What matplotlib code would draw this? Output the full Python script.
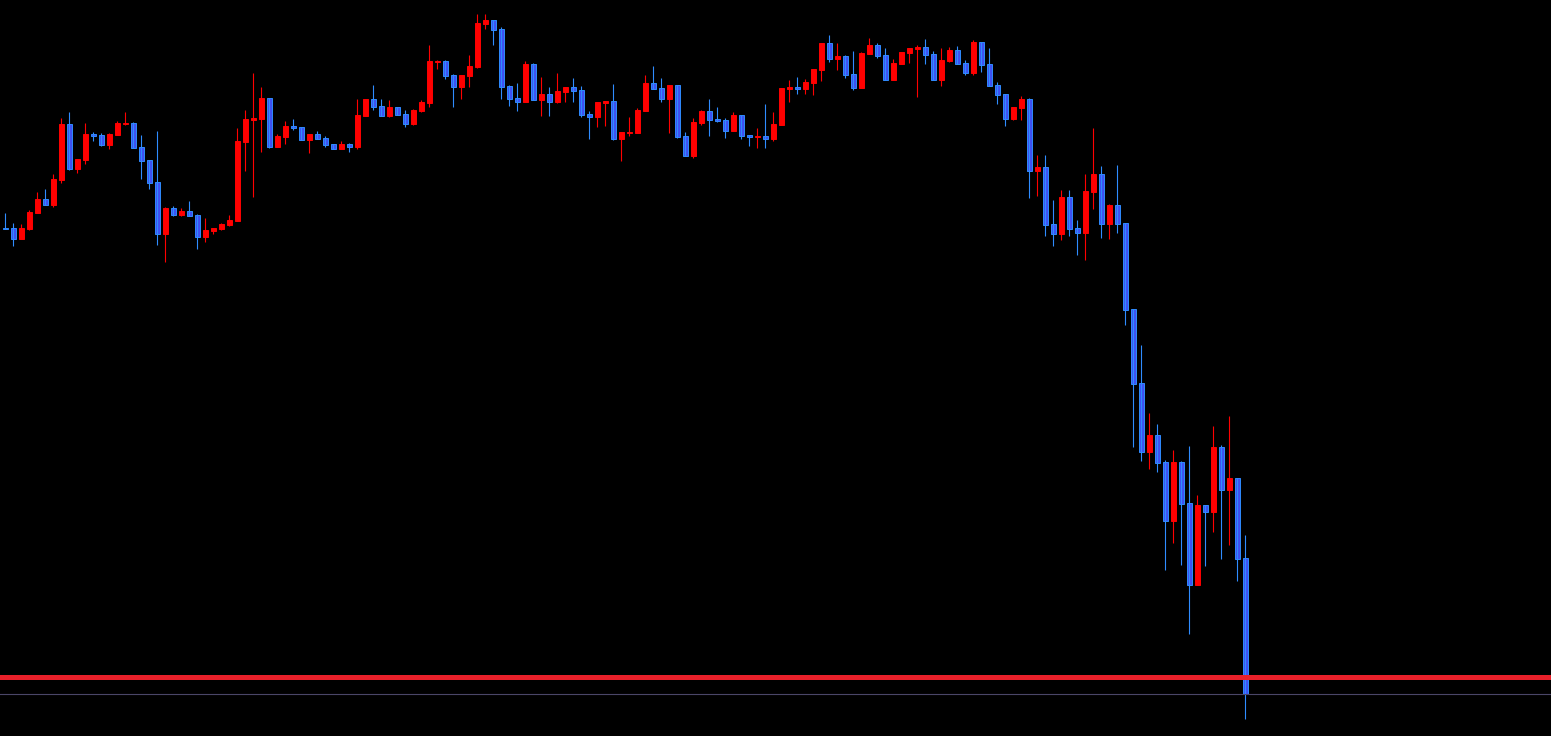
import matplotlib
matplotlib.use("Agg")
import matplotlib.pyplot as plt
import numpy as np

# candle data (price units, one entry per bar)
opens = [508.5, 507.7, 497.3, 507, 523.3, 537, 531, 556, 612, 567,
         576, 602, 601, 591, 601, 612, 613, 589, 576, 554,
         502.3, 528, 521, 525, 521, 499.3, 505, 507, 511, 515,
         594, 616, 617.3, 638, 589.3, 599.3, 610, 609, 596.3, 602,
         598, 592, 587.3, 592, 589.3, 620.3, 637, 630, 620.3, 629,
         622, 612.3, 625, 633, 674, 675, 661, 649, 660, 669,
         712, 716, 707, 650, 638, 634.3, 672, 636.3, 642, 634.3,
         644.3, 649, 646, 622.3, 619.3, 633.3, 635, 597.3, 603.3, 603.3,
         625.3, 653, 648, 637.3, 651, 600, 580.3, 613.3, 625, 617,
         616, 605.3, 621, 601, 599.3, 600, 597.3, 611.3, 647.3, 649,
         647.3, 653.3, 666.3, 693, 677.3, 680, 662, 648.3, 682.3, 691,
         681, 656.3, 672.3, 683, 687.3, 689, 682, 656.3, 675.3, 686,
         673, 663.3, 694, 672, 651, 642, 617.3, 628.3, 637, 565.3,
         569, 512, 502.3, 539, 508, 503.3, 544.3, 562, 512.3, 531,
         513, 426.7, 353, 284.3, 301, 274, 215.3, 274, 233, 151.3,
         231, 224.3, 289, 246.3, 258, 177.7]
highs = [523, 513, 512, 526, 544, 547, 562, 618, 624, 577,
         613, 604, 603, 603, 615, 624, 614, 601, 576, 605,
         529, 530, 528, 535, 522, 518, 508, 513, 521, 608,
         626, 663, 649, 638, 602, 615, 617, 609, 602, 605,
         600, 592, 595, 593, 637, 637, 651, 637, 636, 629,
         626, 627, 636, 691, 676, 676, 662, 661, 681, 722,
         722, 716, 709, 651, 653, 675, 673, 659, 649, 663,
         649, 658, 650, 625, 634, 635, 652, 604, 619, 628,
         661, 670, 658, 651, 651, 604, 618, 626, 637, 629,
         618, 624, 621, 601, 608, 632, 624, 648, 656, 659,
         657, 667, 693, 701, 693, 681, 685, 684, 698, 693,
         688, 677, 684, 688, 691, 697, 685, 688, 689, 690,
         676, 696, 694, 688, 654, 642, 629, 640, 638, 581,
         581, 536, 546, 546, 516, 562, 608, 570, 532, 571,
         513, 427, 391, 323, 312, 276, 286, 275, 290, 241,
         231, 310, 291, 320, 258, 201]
lows = [507.5, 490.3, 497.3, 506, 523.3, 531.3, 529.3, 553.3, 566, 563.3,
        572, 595, 590, 587.3, 601, 611, 588.3, 557, 547, 491,
        474.3, 520, 520, 520, 487, 494.3, 502.3, 506, 510, 515,
        565, 539, 584.3, 588.3, 589.3, 592.3, 606, 596.3, 583.3, 597.3,
        589.3, 587.3, 587.3, 584.3, 587.3, 620.3, 626.3, 620.3, 619.3, 621.3,
        609.3, 611.3, 624, 629, 667, 657, 629, 637, 649, 668,
        707, 691, 637, 630.3, 625.3, 634.3, 636.3, 620.3, 620.3, 633.3,
        634.3, 634.3, 619.3, 597.3, 609.3, 610.3, 596.3, 575.3, 600.3, 603.3,
        625.3, 647.3, 634.3, 603.3, 598.3, 580.3, 578.3, 611.3, 600.3, 614.3,
        598.3, 605.3, 597.3, 590.3, 588.3, 588.3, 595.3, 611.3, 634.3, 642.3,
        642.3, 641.3, 655.3, 674.3, 666.3, 658.3, 646.3, 648.3, 682.3, 678.3,
        656.3, 656.3, 672.3, 673.3, 639.3, 672.3, 656.3, 650.3, 674.3, 672.3,
        661.3, 661.3, 664.3, 650.3, 632.3, 610.3, 616.3, 616.3, 538.3, 540.3,
        500.3, 490.3, 496.3, 500.3, 481.3, 476.3, 527.3, 498.3, 497.3, 503.3,
        411.3, 289.3, 275.3, 267.3, 264.3, 166.3, 193.3, 171.3, 102.3, 151.3,
        170.3, 204.3, 177.3, 191.3, 155.3, 17.3]
closes = [507.5, 497.3, 508, 524, 537, 531.3, 557, 612, 567, 577,
          602, 600, 591, 602, 613, 613, 588.3, 575.3, 553, 502.3,
          528, 521, 525, 520, 499.3, 506, 508, 512, 516, 595,
          617, 618, 638, 589.3, 600, 610, 608, 596.3, 602, 597.3,
          591.3, 587.3, 592, 589.3, 621, 637, 629.3, 620.3, 629, 621.3,
          612.3, 626, 634, 675, 675, 660, 649, 661, 670, 713,
          716, 706, 649, 637.3, 634.3, 672, 636.3, 642, 634.3, 645,
          649, 645.3, 621.3, 619.3, 634, 635, 597.3, 604, 604.3, 626,
          653, 647.3, 637.3, 651, 599.3, 580.3, 614, 625, 616.3, 615,
          605.3, 621, 600.3, 599.3, 600, 597.3, 612, 648, 649, 647.3,
          654, 667, 693, 677.3, 680, 661.3, 648.3, 683, 691, 680.3,
          656.3, 673, 684, 688, 689, 681.3, 656.3, 676, 686, 672.3,
          663.3, 694, 671.3, 650.3, 641.3, 617.3, 629, 637, 565.3, 569,
          511.3, 502.3, 539, 507.3, 503.3, 545, 562, 512.3, 531, 512.3,
          426.3, 352.3, 284.3, 301, 273.3, 215.3, 274, 232.3, 151.3, 231,
          224.3, 289, 246.3, 258, 177.3, 42.5]

level_price = 58.7   # red horizontal level
bid_price = 42.5     # last price line

bull_color = "#ff0000"
bear_fill = "#3f4ff2"
bear_edge = "#2f8cff"

o = np.array(opens)
h = np.array(highs)
l = np.array(lows)
c = np.array(closes)
x = np.arange(len(o))
up = c >= o

fig = plt.figure(figsize=(15.51, 7.36), dpi=100, facecolor="black")
ax = fig.add_axes([0, 0, 1, 1])
ax.set_facecolor("black")

# wicks
ax.vlines(x[up], l[up], h[up], color=bull_color, linewidth=0.8)
ax.vlines(x[~up], l[~up], h[~up], color=bear_edge, linewidth=0.8)

# bodies
body_w = 0.6
ax.bar(x[up], c[up] - o[up], bottom=o[up], width=body_w,
       color=bull_color, edgecolor=bull_color, linewidth=0.7)
ax.bar(x[~up], o[~up] - c[~up], bottom=c[~up], width=body_w,
       color=bear_fill, edgecolor=bear_edge, linewidth=0.7)

ax.axhline(level_price, color="#e8202a", linewidth=3.6)
ax.axhline(bid_price, color="#4a4668", linewidth=0.8)

ax.set_xlim(-0.6625, 193.2125)
ax.set_ylim(0, 736)
ax.axis("off")

fig.savefig("out.png", dpi=100, facecolor="black")
